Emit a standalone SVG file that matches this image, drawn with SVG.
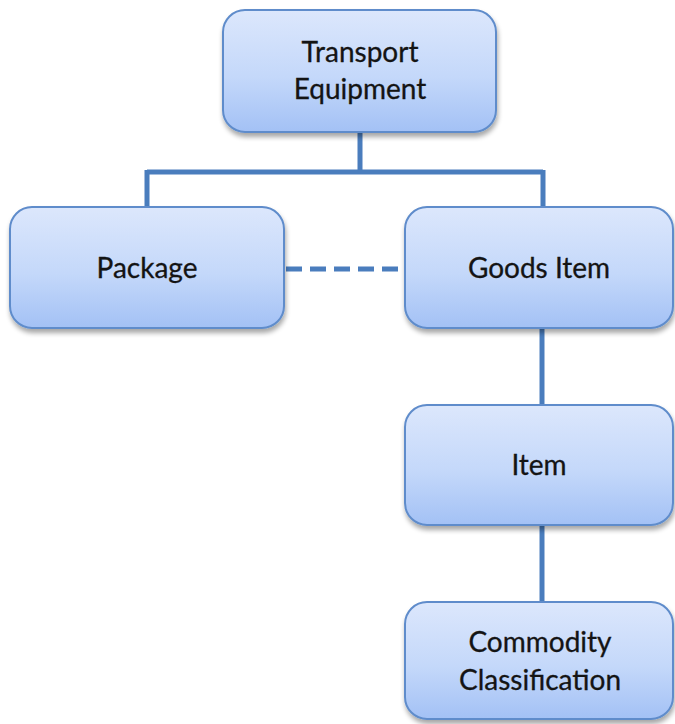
<svg xmlns="http://www.w3.org/2000/svg" width="675" height="724" viewBox="0 0 675 724">
  <defs>
    <linearGradient id="boxFill" x1="0" y1="0" x2="0" y2="1">
      <stop offset="0" stop-color="#dce7fc"/>
      <stop offset="0.55" stop-color="#c4d8fa"/>
      <stop offset="1" stop-color="#a3c1f5"/>
    </linearGradient>
    <filter id="shadow" x="-10%" y="-10%" width="120%" height="130%">
      <feGaussianBlur in="SourceAlpha" stdDeviation="2.5"/>
      <feOffset dx="1" dy="4" result="off"/>
      <feComponentTransfer><feFuncA type="linear" slope="0.35"/></feComponentTransfer>
      <feMerge><feMergeNode/><feMergeNode in="SourceGraphic"/></feMerge>
    </filter>
  </defs>
  <style>
    .box { fill: url(#boxFill); stroke: #5f8ccb; stroke-width: 2; filter: url(#shadow); }
    .lbl { font-family: Lato, "Open Sans", "Liberation Sans", sans-serif; font-size: 28px; fill: #141414; stroke: #141414; stroke-width: 0.3; text-anchor: middle; }
    .link { fill: none; stroke: #4a7dbd; stroke-width: 5; }
    .dash { stroke-dasharray: 16 8; }
  </style>

  <rect width="675" height="724" fill="#ffffff"/>

  <!-- connectors -->
  <g id="connectors">
    <path class="link" d="M360 133 V172 M147 172 H543 M147 170 V207 M543 170 V207"/>
    <path class="link" d="M542 328 V405"/>
    <path class="link" d="M542 525 V602"/>
    <path class="link dash" d="M286 269 H405"/>
  </g>

  <g id="transport-equipment">
    <rect class="box" x="223" y="10" width="273" height="122" rx="22"/>
    <text class="lbl" x="360" y="62">Transport</text>
    <text class="lbl" x="360" y="99">Equipment</text>
  </g>

  <g id="package">
    <rect class="box" x="10" y="207" width="274" height="121" rx="22"/>
    <text class="lbl" x="147" y="278">Package</text>
  </g>

  <g id="goods-item">
    <rect class="box" x="405" y="207" width="268" height="121" rx="22"/>
    <text class="lbl" x="539" y="278">Goods Item</text>
  </g>

  <g id="item">
    <rect class="box" x="405" y="405" width="268" height="120" rx="22"/>
    <text class="lbl" x="539" y="475">Item</text>
  </g>

  <g id="commodity-classification">
    <rect class="box" x="405" y="602" width="268" height="117" rx="22"/>
    <text class="lbl" x="540" y="652">Commodity</text>
    <text class="lbl" x="540" y="690">Classification</text>
  </g>
</svg>
